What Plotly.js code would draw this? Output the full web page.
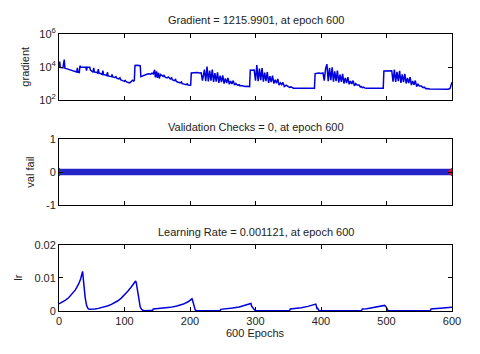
<!DOCTYPE html>
<html>
<head>
<meta charset="utf-8">
<script src="https://cdn.plot.ly/plotly-3.0.1.min.js"></script>
<style>
  html, body { margin: 0; padding: 0; background: #fff; }
  #chart { width: 480px; height: 354px; }
</style>
</head>
<body>
<div id="chart"></div>
<script>
// training record

// gradient (log axis)
const gradEpochs = [
    0, 1, 2, 4, 6, 8, 9, 11, 13, 15, 17, 19, 21, 23, 25, 27, 28, 29, 31, 32,
    33, 35, 37, 39, 41, 42, 43, 45, 47, 48,
    50, 52, 53, 54, 57, 59, 60, 61, 64, 66, 67, 68, 71, 73, 74, 75, 78, 80, 81, 82,
    85, 87, 88, 91, 93, 94, 97, 100, 101, 103, 106, 108, 110, 112, 114,
    115, 116, 118, 120, 122, 124, 125, 128, 131, 134, 137, 140, 142, 144, 146, 147,
    149, 150, 152, 153, 155, 157, 159, 160, 162, 165, 167, 170, 172, 173, 176, 178, 179, 182,
    185, 187, 188, 191, 194, 196, 197, 200, 201,
    202, 205, 208, 211, 214, 217, 219, 222, 224, 226, 228, 230, 232, 234, 236, 238,
    240, 242, 244, 246, 248, 250, 252, 254, 256, 258, 260, 262, 264, 266, 268, 270,
    271, 273, 275, 276, 278, 280, 282, 284, 286, 288, 291,
    292, 295, 298, 300, 302, 304, 306, 308, 310, 312, 314, 316, 318, 320, 322, 324,
    326, 328, 330, 332, 334, 336, 338, 340, 342, 344, 347, 350, 352, 354, 356, 358, 365, 372,
    380, 388, 390,
    391, 394, 397, 400, 403, 405, 407, 409, 411, 413, 415, 417, 419, 421, 423, 425,
    427, 429, 431, 433, 435, 437, 439, 441, 443, 445, 447, 449, 451, 453, 455, 458,
    460, 461, 463, 465, 467, 470, 480, 490, 495,
    496, 499, 502, 505, 508, 510, 512, 514, 516, 518, 520, 522, 524, 526, 528, 530,
    532, 534, 536, 538, 540, 542, 544, 546, 548, 550, 553, 556, 558, 560, 562, 566, 572, 580,
    588, 594, 597, 598, 599, 600
];
const gradValues = [
    10500, 21000, 9500, 9000, 8800, 28000, 8500, 8000, 7600, 7200, 7000, 6500, 6000, 5800, 5500, 5000, 9000, 4800, 4600, 12000,
    10000, 10000, 9800, 10200, 9600, 6000, 9800, 9500, 9500, 6500,
    5800, 4800, 9000, 5000, 4800, 4200, 7500, 4300, 3900, 3600, 6000, 3500, 3300, 3000, 4800, 2900, 2700, 2600, 3600, 2500,
    2300, 2600, 2100, 1900, 2200, 1700, 1500, 1350, 1550, 1250, 1150, 1100, 1300, 1600, 1400,
    1500, 12500, 13000, 12800, 12500, 12000, 2600, 2800, 3300, 3600, 3900, 3700, 4200, 3800, 6800, 2400,
    5500, 2200, 4500, 2000, 3500, 3200, 2700, 3300, 2400, 2200, 2500, 1900, 2200, 1700, 1500, 1750, 1350, 1200,
    1100, 1250, 1000, 920, 850, 950, 800, 780, 800,
    4300, 4500, 4400, 4600, 4400, 4500, 1500, 7000, 1400, 10500, 1350, 6000, 1500, 7000, 1250, 4200,
    1300, 4800, 1100, 3000, 1200, 3100, 1000, 2000, 1050, 2200, 900, 1400, 950, 1500, 800, 1000,
    900, 780, 850, 740, 760, 700, 720, 650, 680, 640, 650,
    6300, 6600, 6500, 1500, 13000, 1400, 8000, 1600, 8500, 1300, 4500, 1400, 5000, 1100, 2800, 1200,
    3000, 1000, 1700, 1050, 1900, 800, 1100, 850, 1150, 650, 800, 650, 580, 620, 540, 520, 510, 500,
    500, 500, 510,
    4000, 4200, 4300, 4100, 4400, 1500, 8000, 15000, 1400, 9000, 1600, 9500, 1300, 5500, 1400, 6000,
    1150, 3500, 1250, 3800, 1000, 2200, 1050, 2400, 900, 1400, 950, 1500, 720, 1000, 800, 800,
    620, 660, 560, 600, 530, 520, 510, 505, 510,
    5800, 6000, 6100, 5900, 6000, 1300, 7000, 1250, 5000, 1400, 5800, 1100, 3600, 1200, 3800, 1000,
    2200, 1050, 2400, 800, 1400, 850, 1500, 650, 950, 700, 700, 560, 600, 480, 500, 460, 450, 440,
    445, 450, 500, 700, 950, 1216
];

// validation checks
const valEpochs = [0, 600];
const valChecks = [0, 0];

// learning rate
const lrEpochs = [
    0, 5, 10, 15, 20, 25, 30, 33, 36, 37, 38, 40, 42, 44, 46, 50, 55, 60, 65, 70,
    75, 80, 85, 90, 95, 100, 105, 110, 114, 117, 118, 120, 122, 124, 126, 128, 131, 136, 140, 143,
    144, 150, 160, 170, 180, 190, 197, 203, 204, 206, 208, 210, 246, 247, 255, 265, 275, 285, 293, 294,
    296, 297, 299, 301, 352, 353, 360, 370, 380, 388, 392, 393, 394, 395, 397, 462, 463, 470, 480, 490,
    497, 499, 501, 502, 504, 567, 568, 575, 585, 595, 600
];
const lrValues = [
    0.0022, 0.0027, 0.0033, 0.0041, 0.0051, 0.0064, 0.0082, 0.0097, 0.0120, 0.0095, 0.0070, 0.0040, 0.0018, 0.0008, 0.0005, 0.0005, 0.0006, 0.0008, 0.0010, 0.0013,
    0.0016, 0.0020, 0.0025, 0.0031, 0.0039, 0.0048, 0.0060, 0.0072, 0.0083, 0.0091, 0.0085, 0.0055, 0.0030, 0.0012, 0.0005, 0.0002, 0.0001, 0.0001, 0.0001, 0.0002,
    0.0006, 0.0007, 0.0009, 0.0011, 0.0015, 0.0021, 0.0028, 0.0037, 0.0032, 0.0015, 0.0003, 0.0001, 0.0001, 0.0005, 0.0006, 0.0009, 0.0012, 0.0017, 0.0023, 0.0015,
    0.0008, 0.0009, 0.0002, 0.0001, 0.0001, 0.0006, 0.0007, 0.0010, 0.0014, 0.0018, 0.0021, 0.0014, 0.0006, 0.0008, 0.0001, 0.0001, 0.0006, 0.0007, 0.0010, 0.0013,
    0.0017, 0.0014, 0.0005, 0.0002, 0.0001, 0.0001, 0.0006, 0.0007, 0.0009, 0.0011, 0.00112
];

const BLUE = '#0000dd';
const FONT = { family: 'Liberation Sans, Arial, sans-serif', size: 11, color: '#222' };

// shared MATLAB-ish box axis
function boxAxis(extra) {
    return Object.assign({
        showline: true,
        linecolor: '#000',
        linewidth: 1,
        mirror: 'ticks',
        ticks: 'inside',
        ticklen: 4,
        tickcolor: '#000',
        showgrid: false,
        zeroline: false,
        tickfont: FONT
    }, extra);
}

const data = [
    {
        x: gradEpochs, y: gradValues,
        type: 'scatter', mode: 'lines',
        line: { color: BLUE, width: 1.5 },
        xaxis: 'x', yaxis: 'y'
    },
    {
        x: valEpochs, y: valChecks,
        type: 'scatter', mode: 'lines',
        line: { color: '#2424c8', width: 6.5 },
        xaxis: 'x2', yaxis: 'y2'
    },
    {
        x: [valEpochs[0]], y: [valChecks[0]],
        type: 'scatter', mode: 'markers',
        marker: { symbol: 'diamond', size: 7, color: '#2a3aa0' },
        xaxis: 'x2', yaxis: 'y2'
    },
    {
        x: [valEpochs[valEpochs.length - 1]], y: [valChecks[valChecks.length - 1]],
        type: 'scatter', mode: 'markers',
        marker: { symbol: 'diamond', size: 7, color: '#e01010' },
        xaxis: 'x2', yaxis: 'y2'
    },
    {
        x: lrEpochs, y: lrValues,
        type: 'scatter', mode: 'lines',
        line: { color: BLUE, width: 1.5 },
        xaxis: 'x3', yaxis: 'y3'
    }
];

const xCommon = { range: [0, 600], tickvals: [0, 100, 200, 300, 400, 500, 600] };

const layout = {
    width: 480,
    height: 354,
    margin: { l: 59, r: 28, t: 34, b: 43 },
    showlegend: false,
    paper_bgcolor: '#fff',
    plot_bgcolor: '#fff',
    font: FONT,
    xaxis: boxAxis(Object.assign({ anchor: 'y', showticklabels: false }, xCommon)),
    xaxis2: boxAxis(Object.assign({ anchor: 'y2', showticklabels: false }, xCommon)),
    xaxis3: boxAxis(Object.assign({ anchor: 'y3', showticklabels: true }, xCommon)),
    yaxis: boxAxis({
        domain: [0.7617, 1.0], anchor: 'x', type: 'log', range: [2, 6],
        tickvals: [1e2, 1e4, 1e6],
        ticktext: ['10<sup>2</sup>', '10<sup>4</sup>', '10<sup>6</sup>']
    }),
    yaxis2: boxAxis({
        domain: [0.3827, 0.6209], anchor: 'x2', range: [-1, 1],
        tickvals: [-1, 0, 1], ticktext: ['-1', '0', '1']
    }),
    yaxis3: boxAxis({
        domain: [0, 0.2383], anchor: 'x3', range: [0, 0.02],
        tickvals: [0, 0.01, 0.02], ticktext: ['0', '0.01', '0.02']
    }),
    annotations: [
        { text: 'Gradient = 1215.9901, at epoch 600', x: 0.5, y: 1.0505 },
        { text: 'Validation Checks = 0, at epoch 600', x: 0.5, y: 0.6653 },
        { text: 'Learning Rate = 0.001121, at epoch 600', x: 0.5, y: 0.2841 },
        { text: '600 Epochs', x: 0.5, y: -0.0794 },
        { text: 'gradient', x: -0.0874, y: 0.8809, textangle: -90 },
        { text: 'val fail', x: -0.0747, y: 0.5018, textangle: -90 },
        { text: 'lr', x: -0.1052, y: 0.1191, textangle: -90 }
    ].map(a => Object.assign({
        xref: 'paper', yref: 'paper',
        xanchor: 'center', yanchor: 'middle',
        showarrow: false, font: FONT
    }, a))
};

Plotly.newPlot('chart', data, layout, { staticPlot: true });
</script>
</body>
</html>
